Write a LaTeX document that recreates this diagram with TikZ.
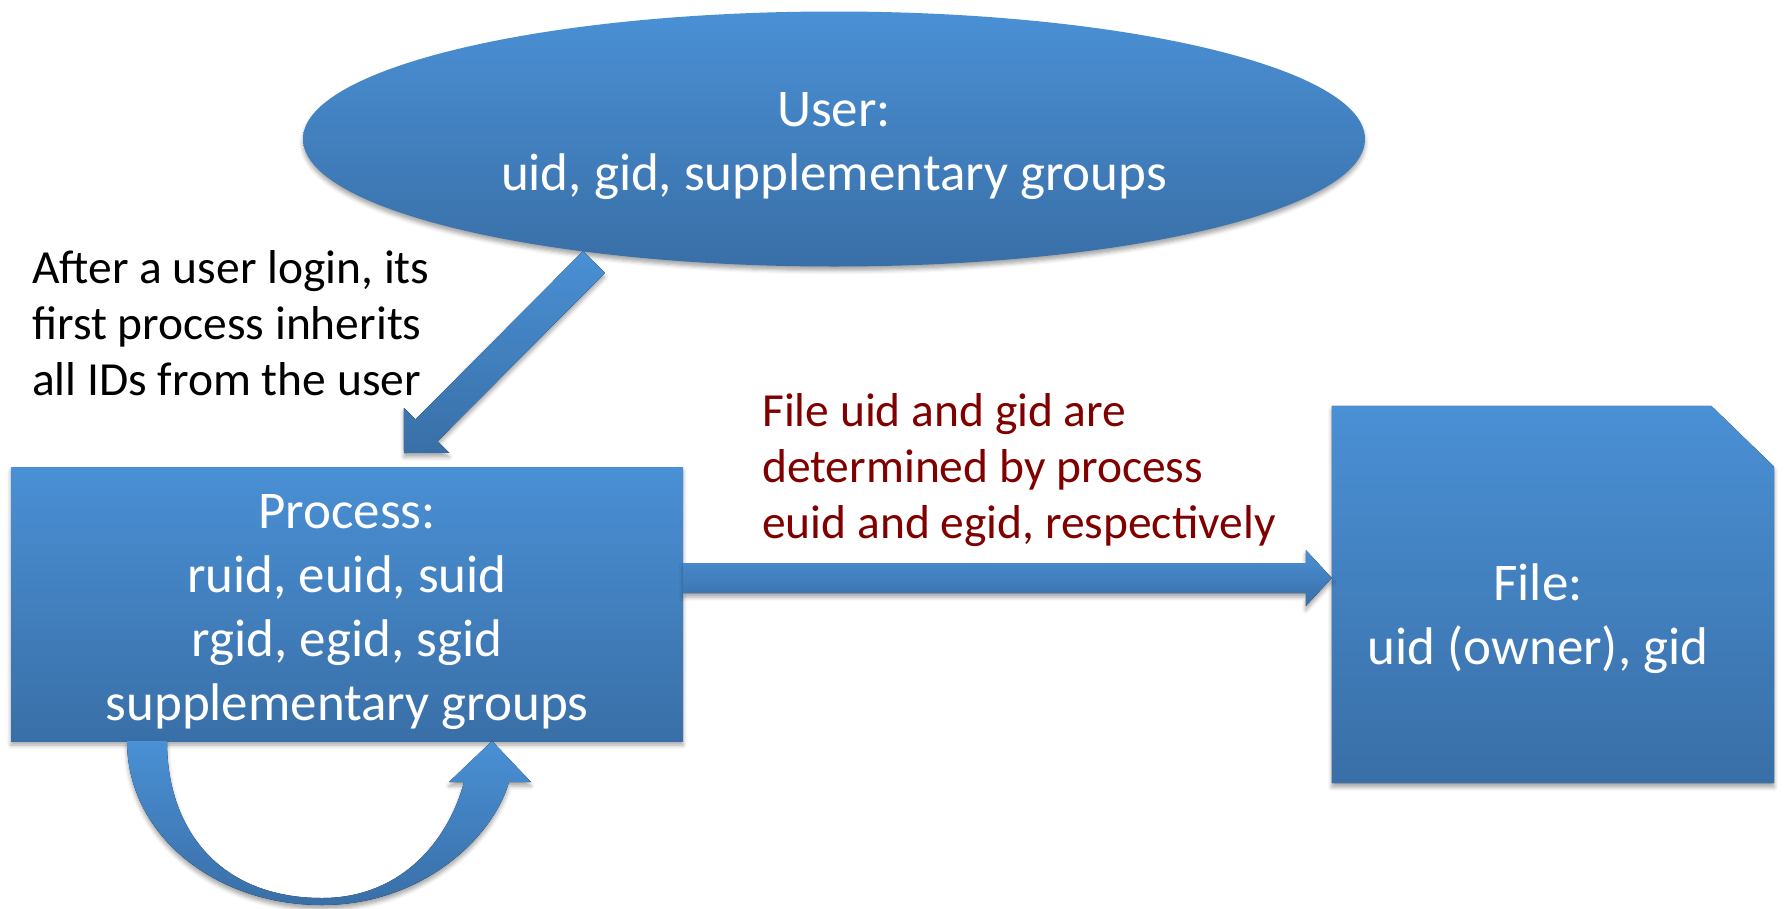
\documentclass[tikz,border=0pt]{standalone}
\usepackage{fontspec}
\setmainfont{Carlito}
\usetikzlibrary{shapes.geometric,calc,shadows.blur}
\definecolor{btop}{RGB}{74,144,213}
\definecolor{bbot}{RGB}{57,111,167}
\definecolor{dred}{RGB}{128,0,0}
\tikzset{
  blueshade/.style={top color=btop,bottom color=bbot,draw=none},
  softshadow/.style={blur shadow={shadow xshift=0pt,shadow yshift=-4pt,shadow blur radius=4pt,shadow opacity=35}},
  bigtext/.style={text=white,font=\fontsize{53}{64}\selectfont,align=center,inner sep=0pt},
  note/.style={font=\fontsize{47.5}{56}\selectfont,align=left,anchor=north west,inner sep=0pt}
}
\begin{document}
\begin{tikzpicture}[x=1pt,y=-1pt]
\useasboundingbox (0,0) rectangle (1785,908);

% User ellipse
\node[ellipse,blueshade,softshadow,minimum width=1062pt,minimum height=255pt,inner sep=0pt] (user) at (834,139) {};
\node[bigtext] (usertext) at (834,146) {User:\\uid, gid, supplementary groups};

% Process box
\node[rectangle,blueshade,softshadow,minimum width=672pt,minimum height=274pt,inner sep=0pt] (proc) at (347,604) {};
\node[bigtext] (proctext) at (347,612) {Process:\\ruid, euid, suid\\rgid, egid, sgid\\supplementary groups};

% File shape (snipped corner)
\node[minimum width=442pt,minimum height=377pt,inner sep=0pt] (file) at (1553,594.5) {};
\fill[blueshade,softshadow] (file.north west) -- ($(file.north east)+(-63,0)$) -- ($(file.north east)+(0,61)$) -- (file.south east) -- (file.south west) -- cycle;
\node[bigtext] (filetext) at ($(file.center)+(-15,24)$) {File:\\uid (owner), gid};

% Diagonal arrow user -> process
\coordinate (dA) at (594,262);
\coordinate (dT) at (404,453);
\coordinate (dB) at ($(dT)!32pt!(dA)$);
\fill[blueshade,softshadow]
  ($(dA)!15.5pt!90:(dT)$) -- ($(dB)!15.5pt!90:(dT)$) -- ($(dB)!32pt!90:(dT)$) -- (dT)
  -- ($(dB)!32pt!-90:(dT)$) -- ($(dB)!15.5pt!-90:(dT)$) -- ($(dA)!15.5pt!-90:(dT)$) -- cycle;

% Horizontal arrow process -> file
\coordinate (hS) at (proc.east |- 0,578);
\coordinate (hT) at (file.west |- 0,578);
\fill[blueshade,softshadow]
  ($(hS)+(0,-15)$) -- ($(hT)+(-26,-15)$) -- ($(hT)+(-26,-28)$) -- (hT)
  -- ($(hT)+(-26,28)$) -- ($(hT)+(-26,15)$) -- ($(hS)+(0,15)$) -- cycle;

% Curved self-loop arrow under process
\fill[blueshade,softshadow]
  (127,741) .. controls (127,835) and (215,905) .. (322,905)
  .. controls (420,905) and (492,840) .. (509,782)
  -- (531,782) -- (492,741) -- (449,782) -- (464,782)
  .. controls (448,842) and (400,898) .. (322,898)
  .. controls (222,898) and (167,832) .. (167,741) -- cycle;

% Labels
\node[note] (login) at (32,250) {After a user login, its\\first process inherits\\all IDs from the user};
\node[note,text=dred] (rule) at (762,393) {File uid and gid are\\determined by process\\euid and egid, respectively};
\end{tikzpicture}
\end{document}
